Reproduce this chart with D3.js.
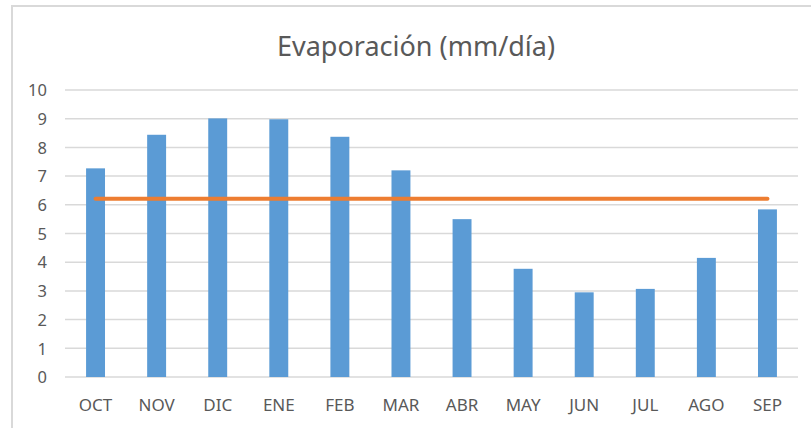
<!DOCTYPE html>
<html>
<head>
<meta charset="utf-8">
<script src="https://cdn.jsdelivr.net/npm/d3@7"></script>
<style>
  html, body { margin: 0; padding: 0; background: #fff; }
  svg { display: block; }
  text { font-family: "Noto Sans", "Open Sans", sans-serif; fill: #595959; }
</style>
</head>
<body>
<svg id="chart" width="811" height="428"></svg>
<script>
// Monthly evaporation (mm/day), hydrological year Oct–Sep
const months = ["OCT", "NOV", "DIC", "ENE", "FEB", "MAR", "ABR", "MAY", "JUN", "JUL", "AGO", "SEP"];
const evaporation = [7.27, 8.44, 9.01, 8.98, 8.37, 7.20, 5.50, 3.77, 2.95, 3.07, 4.15, 5.84];
// Annual average, drawn as a flat reference line
const average = [6.21, 6.21, 6.21, 6.21, 6.21, 6.21, 6.21, 6.21, 6.21, 6.21, 6.21, 6.21];
const yTicks = [0, 1, 2, 3, 4, 5, 6, 7, 8, 9, 10];
const title = "Evaporación (mm/día)";

const svg = d3.select("#chart");
const W = 811, H = 428;
const plot = { left: 65, right: 798, top: 90, bottom: 377 };

// chart frame
svg.append("rect")
  .attr("x", 12).attr("y", 6)
  .attr("width", W + 20).attr("height", H + 20)
  .attr("fill", "#fff")
  .attr("stroke", "#d9d9d9").attr("stroke-width", 2);

const x = d3.scaleBand()
  .domain(months)
  .range([plot.left, plot.right])
  .paddingInner(0.69)
  .paddingOuter(0.345);

const y = d3.scaleLinear()
  .domain([0, 10])
  .range([plot.bottom, plot.top]);

// gridlines
svg.append("g")
  .selectAll("line")
  .data(yTicks)
  .join("line")
  .attr("x1", plot.left).attr("x2", plot.right)
  .attr("y1", d => y(d)).attr("y2", d => y(d))
  .attr("stroke", "#d9d9d9")
  .attr("stroke-width", 1.5);

// y-axis labels
const yAxis = d3.axisLeft(y).tickValues(yTicks).tickSize(0).tickPadding(0);
const gy = svg.append("g").attr("transform", `translate(${plot.left - 18},0)`).call(yAxis);
gy.select(".domain").remove();
gy.selectAll("text")
  .attr("font-size", 16.5)
  .attr("font-family", "Noto Sans")
  .attr("fill", "#595959")
  .attr("dy", "0.35em");

// x-axis labels
const xAxis = d3.axisBottom(x).tickSize(0).tickPadding(0);
const gx = svg.append("g").attr("transform", `translate(0,${plot.bottom})`).call(xAxis);
gx.select(".domain").remove();
gx.selectAll("text")
  .attr("font-size", 17)
  .attr("font-family", "Noto Sans")
  .attr("fill", "#595959")
  .attr("y", 33.5)
  .attr("dy", 0);

// bars
svg.append("g")
  .selectAll("rect")
  .data(evaporation)
  .join("rect")
  .attr("x", (d, i) => x(months[i]))
  .attr("width", x.bandwidth())
  .attr("y", d => y(d))
  .attr("height", d => y(0) - y(d))
  .attr("fill", "#5b9bd5");

// average line
const line = d3.line()
  .x((d, i) => x(months[i]) + x.bandwidth() / 2)
  .y(d => y(d));
svg.append("path")
  .datum(average)
  .attr("d", line)
  .attr("fill", "none")
  .attr("stroke", "#ed7d31")
  .attr("stroke-width", 4)
  .attr("stroke-linecap", "round");

// title
svg.append("text")
  .attr("x", 416)
  .attr("y", 56)
  .attr("text-anchor", "middle")
  .attr("font-size", 27)
  .attr("fill", "#595959")
  .text(title);
</script>
</body>
</html>
